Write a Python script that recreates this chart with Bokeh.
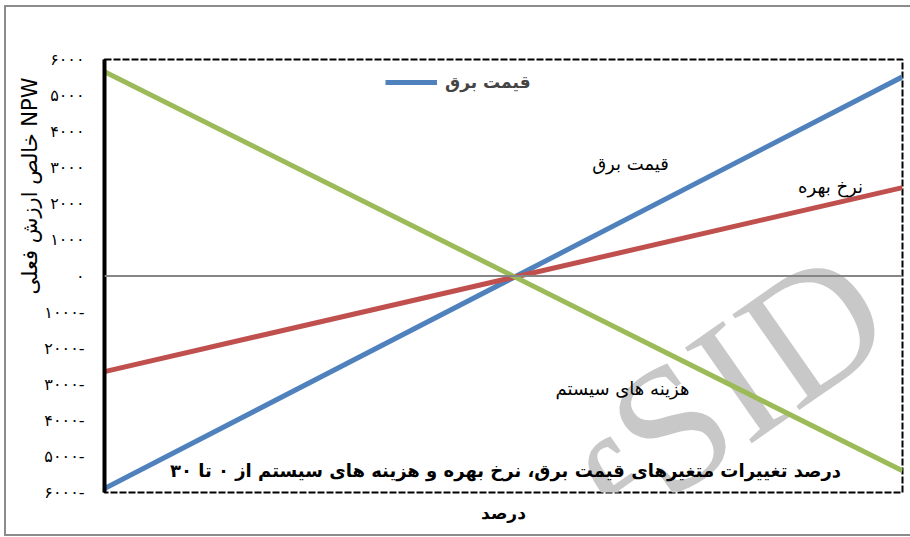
from bokeh.plotting import figure
from bokeh.models import (Range1d, FixedTicker, Label, Span, Legend, LegendItem, Title)
from bokeh.embed import file_html
from bokeh.resources import INLINE

# ---- data ----
x_pct = [-30, 30]
price = [-5890, 5520]       # قیمت برق
interest = [-2650, 2450]    # نرخ بهره
cost = [5660, -5400]        # هزینه های سیستم

y_ticks = [6000, 5000, 4000, 3000, 2000, 1000, 0, -1000, -2000, -3000, -4000, -5000, -6000]
y_tick_labels = ["۶۰۰۰", "۵۰۰۰", "۴۰۰۰", "۳۰۰۰", "۲۰۰۰", "۱۰۰۰", "۰",
                 "۱۰۰۰-", "۲۰۰۰-", "۳۰۰۰-", "۴۰۰۰-", "۵۰۰۰-", "۶۰۰۰-"]

name_price = "قیمت برق"
name_interest = "نرخ بهره"
name_cost = "هزینه های سیستم"
y_title = "خالص ارزش فعلی NPW"
x_title = "درصد"
inner_title = "درصد تغییرات متغیرهای قیمت برق، نرخ بهره و هزینه های سیستم از ۰ تا ۳۰"

FA = "DejaVu Sans"

# frame in canvas pixels: left 104, right 902, top 59, bottom 492
FL, FB = 104, 492

p = figure(width=910, height=537, output_backend="svg", toolbar_location=None,
           x_range=Range1d(-30, 30), y_range=Range1d(-6000, 6000),
           min_border_left=104, min_border_right=8, min_border_top=59, min_border_bottom=45)

p.stylesheets = [":host::after { content: ''; position: absolute; left: 4px; top: 5px; "
                 "width: 906px; height: 531px; box-sizing: border-box; "
                 "border: 2px solid #8c8c8c; border-right: none; pointer-events: none; }"]

p.background_fill_color = "white"
p.border_fill_color = "white"
p.xgrid.visible = False
p.ygrid.visible = False

p.outline_line_color = "black"
p.outline_line_width = 2
p.outline_line_dash = "7 2"

ya = p.yaxis[0]
ya.ticker = FixedTicker(ticks=y_ticks)
ya.major_label_overrides = {t: s for t, s in zip(y_ticks, y_tick_labels)}
ya.axis_line_color = "black"
ya.axis_line_width = 4
ya.major_tick_line_color = None
ya.minor_tick_line_color = None
ya.major_tick_out = 0
ya.major_label_standoff = 20
ya.major_label_text_font = FA
ya.major_label_text_font_size = "16px"
ya.major_label_text_color = "black"

# y-axis title as a side title so it can be shifted along the axis
yt = Title(text=y_title, align="right", offset=18, standoff=0,
           text_font=FA, text_font_size="21px", text_font_style="normal", text_color="black")
p.add_layout(yt, "left")

xa = p.xaxis[0]
xa.ticker = FixedTicker(ticks=[])
xa.axis_line_color = None
xa.major_tick_line_color = None
xa.minor_tick_line_color = None
xa.major_tick_out = 0
xa.major_label_standoff = 0
xa.major_label_text_font_size = "0px"
xa.axis_label = x_title
xa.axis_label_text_font = FA
xa.axis_label_text_font_size = "17px"
xa.axis_label_text_font_style = "bold"
xa.axis_label_text_color = "black"
xa.axis_label_standoff = 10

def sx(cx):
    return cx - FL

def sy(cy):
    return FB - cy

# watermark
p.add_layout(Label(x=sx(748), y=sy(372), x_units="screen", y_units="screen", text="SID",
                   text_font="Liberation Serif", text_font_size="178px", text_color="#c8c8c8",
                   angle=35, angle_units="deg", text_align="center", text_baseline="middle",
                   level="underlay"))
p.add_layout(Label(x=sx(622), y=sy(505), x_units="screen", y_units="screen", text="f",
                   text_font="Liberation Serif", text_font_size="178px", text_color="#c8c8c8",
                   angle=35, angle_units="deg", text_align="center", text_baseline="middle",
                   level="underlay"))

p.add_layout(Span(location=0, dimension="width", line_color="#868686", line_width=2))

r_price = p.line(x_pct, price, line_color="#4F81BD", line_width=5)
r_int = p.line(x_pct, interest, line_color="#C0504D", line_width=5)
r_cost = p.line(x_pct, cost, line_color="#9BBB59", line_width=5)

leg = Legend(items=[LegendItem(label=name_price, renderers=[r_price])],
             location=(sx(385), sy(92)), padding=0, margin=0, spacing=0,
             glyph_width=52, glyph_height=20, label_standoff=8,
             label_text_font=FA, label_text_font_style="bold", label_text_font_size="17px",
             border_line_color=None, background_fill_alpha=0)
p.add_layout(leg)

def lab(text, cx, cy, size, bold=False):
    p.add_layout(Label(x=sx(cx), y=sy(cy), x_units="screen", y_units="screen", text=text,
                       text_font=FA, text_font_size=size, text_color="black",
                       text_font_style="bold" if bold else "normal",
                       text_align="center", text_baseline="middle"))

lab(name_price, 630, 163, "18px")
lab(name_interest, 830, 186, "18px")
lab(name_cost, 622, 388, "18px")
lab(inner_title, 505, 470, "18px", bold=True)

open("out.html", "w").write(file_html(p, INLINE))
